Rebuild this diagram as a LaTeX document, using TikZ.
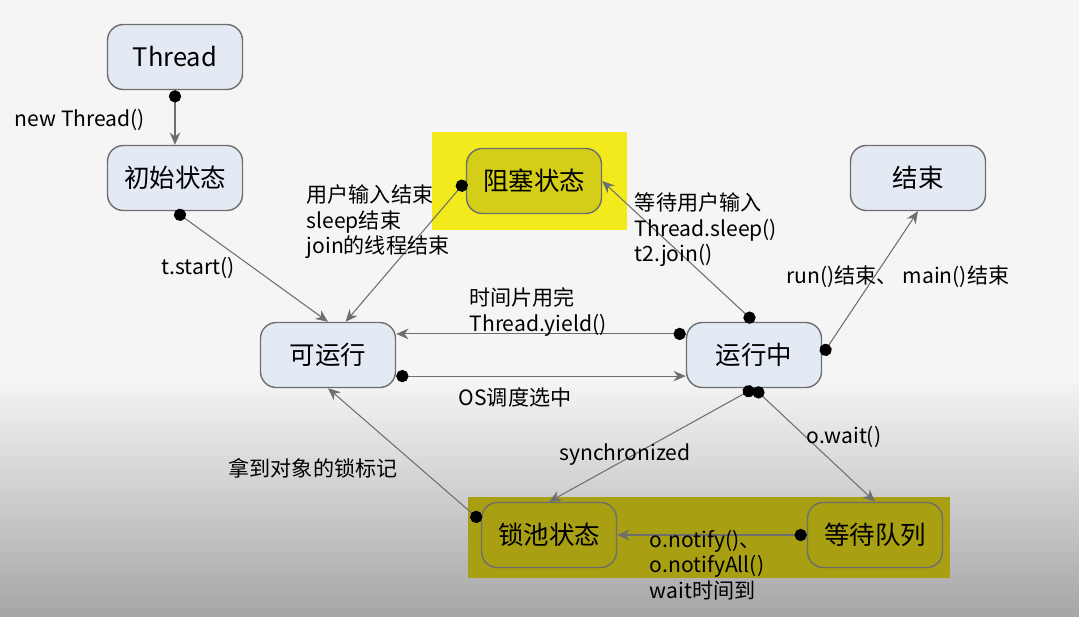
\documentclass[tikz,border=0pt]{standalone}
\usepackage{fontspec}
\setmainfont{Noto Sans CJK SC}
\usetikzlibrary{positioning,arrows.meta,backgrounds}
\definecolor{stbg}{HTML}{E4EAF4}
\definecolor{stline}{HTML}{6E6E6E}
\definecolor{hlyel}{HTML}{F2EA1C}
\definecolor{hlolive}{HTML}{A89F12}
\begin{document}
\begin{tikzpicture}[
            x = 0.02cm, y = -0.02cm,
            > = {Stealth[length=7pt,width=6pt]},
            semithick,
            font = \fontsize{12}{14.5}\selectfont
        ]

        \tikzset{
            state/.style = {draw = stline, thick, fill = stbg, rounded corners = 9pt,
                minimum width = 2.7cm, minimum height = 1.3cm, font = \fontsize{14.5}{17}\selectfont},
            trans/.style = {draw = stline, {Circle[length=7pt,black]}->},
            lbl/.style = {align = left, inner sep = 1pt}
        }

	% BACKGROUND
        \fill[gray!8] (0,0) rectangle (1079,616);
        \shade[top color = gray!8, bottom color = gray!70] (0,380) rectangle (1079,616);

	% HIGHLIGHT BOXES
        \fill[hlyel] (432,132) rectangle (627,230);
        \fill[hlolive] (468,497) rectangle (950,578);

	% STATES
        \node[state] (TH) at (175,57) {Thread};
        \node[state] (NEW) at (175,178) {初始状态};
        \node[state, fill = hlyel!80!black!60!hlyel] (BLK) at (534,181) {阻塞状态};
        \node[state] (END) at (918,178) {结束};
        \node[state] (RDY) at (328,355) {可运行};
        \node[state] (RUN) at (754,355) {运行中};
        \node[state, fill = hlolive] (LCK) at (549,535) {锁池状态};
        \node[state, fill = hlolive] (WQ) at (875,535) {等待队列};

	% TRANSITIONS
        \draw[trans] (TH.south) -- (NEW.north);
        \draw[trans] (NEW.south) -- (RDY.north);
        \draw[trans] (BLK.west) -- ([xshift=10pt]RDY.north);
        \draw[trans] (RUN.north) -- (BLK.east);
        \draw[trans] (RUN.east) -- (END.south);
        \draw[trans] ([yshift=12pt]RUN.west) -- ([yshift=12pt]RDY.east);
        \draw[trans] ([yshift=-12pt]RDY.east) -- ([yshift=-12pt]RUN.west);
        \draw[trans] (RUN.south) -- (LCK.north);
        \draw[trans] (RUN.south) -- (WQ.north);
        \draw[trans] (WQ.west) -- (LCK.east);
        \draw[trans] ([yshift=8pt]LCK.west) -- (RDY.south);

	% LABELS
        \node[lbl] (L1) at (80,120) {new Thread()};
        \node[lbl] (L2) at (198,268) {t.start()};
        \node[lbl] (L3) at (378,222) {用户输入结束\\sleep结束\\join的线程结束};
        \node[lbl] (L4) at (706,230) {等待用户输入\\Thread.sleep()\\t2.join()};
        \node[lbl] (L5) at (898,277) {run()结束、 main()结束};
        \node[lbl] (L6) at (538,312) {时间片用完\\Thread.yield()};
        \node[lbl] (L7) at (515,397) {OS调度选中};
        \node[lbl] (L8) at (625,455) {synchronized};
        \node[lbl] (L9) at (844,437) {o.wait()};
        \node[lbl] (L10) at (707,565) {o.notify()、\\o.notifyAll()\\wait时间到};
        \node[lbl] (L11) at (313,468) {拿到对象的锁标记};

  \end{tikzpicture}
\end{document}
